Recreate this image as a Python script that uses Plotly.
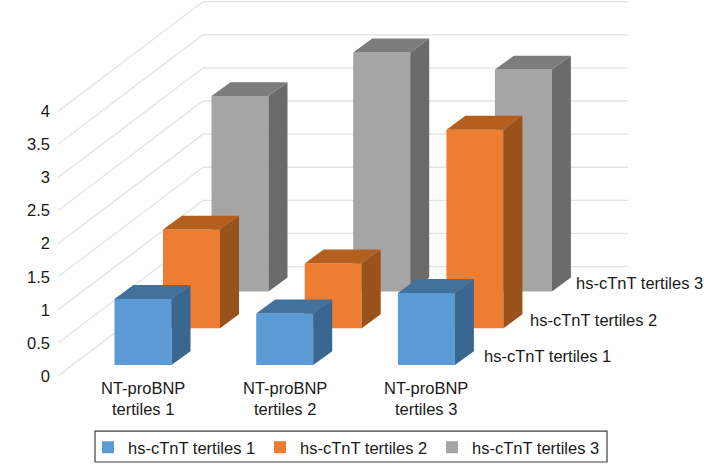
import plotly.graph_objects as go

categories = ["NT-proBNP<br>tertiles 1", "NT-proBNP<br>tertiles 2", "NT-proBNP<br>tertiles 3"]
series_names = ["hs-cTnT tertiles 1", "hs-cTnT tertiles 2", "hs-cTnT tertiles 3"]
tertiles_1 = [1.00, 0.78, 1.09]
tertiles_2 = [1.49, 0.98, 3.00]
tertiles_3 = [2.95, 3.61, 3.35]
y_ticks = [0, 0.5, 1, 1.5, 2, 2.5, 3, 3.5, 4]
series_values = [tertiles_1, tertiles_2, tertiles_3]

front_colors = ["#5B9BD5", "#ED7D31", "#A5A5A5"]
top_colors = ["#41719C", "#B55F1F", "#7C7C7C"]
side_colors = ["#3A6791", "#9A521C", "#6B6B6B"]

W, H = 704, 465
LEFT = 54
PX = 66.5          # pixels per HR unit
ZERO_PX = 377.7    # pixel row of HR = 0 in the front plane
CAT_STEP = 141.7
SER_DX, SER_DY = 48.5, 37 / PX
FIRST_X, FIRST_BASE = 143, 11 / PX
BAR_W = 57
DX, DY = 19, 14 / PX
WALL_DX, WALL_DY = 145, 110 / PX
WALL_END = 628
GRID_X0 = 58
FS = 16.5

fig = go.Figure()

# gridlines: floor-to-wall diagonal plus wall line for every tick
shapes = []
for v in y_ticks:
    line = dict(color="#E2E2E2", width=1.3)
    shapes.append(dict(type="line", layer="below", xref="x", yref="y", x0=GRID_X0, y0=v,
                       x1=GRID_X0 + WALL_DX, y1=v + WALL_DY, line=line))
    shapes.append(dict(type="line", layer="below", xref="x", yref="y", x0=GRID_X0 + WALL_DX, y0=v + WALL_DY,
                       x1=WALL_END, y1=v + WALL_DY, line=line))
# legend frame
shapes.append(dict(type="rect", layer="below", xref="x", yref="y", x0=95, x1=607,
                   y0=(ZERO_PX - 464) / PX, y1=(ZERO_PX - 433) / PX,
                   line=dict(color="#404040", width=1.2), fillcolor="white"))

for s in [2, 1, 0]:
    centers = [FIRST_X + c * CAT_STEP + s * SER_DX for c in range(3)]
    base = FIRST_BASE + s * SER_DY
    fig.add_trace(go.Bar(
        x=centers, y=series_values[s], base=[base] * 3, width=BAR_W,
        name=series_names[s], marker=dict(color=front_colors[s], line=dict(width=0)),
        hoverinfo="y+name",
    ))

for s in [2, 1, 0]:
    base = FIRST_BASE + s * SER_DY
    for c, v in enumerate(series_values[s]):
        xc = FIRST_X + c * CAT_STEP + s * SER_DX
        xl, xr = xc - BAR_W / 2, xc + BAR_W / 2
        top = base + v
        fig.add_trace(go.Scatter(
            x=[xr, xr + DX, xr + DX, xr, xr], y=[base, base + DY, top + DY, top, base],
            mode="lines", fill="toself", fillcolor=side_colors[s], line=dict(width=0),
            showlegend=False, hoverinfo="skip"))
        fig.add_trace(go.Scatter(
            x=[xl, xr, xr + DX, xl + DX, xl], y=[top, top, top + DY, top + DY, top],
            mode="lines", fill="toself", fillcolor=top_colors[s], line=dict(width=0),
            showlegend=False, hoverinfo="skip"))

FONT = "Liberation Sans, Arial, sans-serif"
annotations = []
for c, label in enumerate(categories):
    annotations.append(dict(x=FIRST_X + c * CAT_STEP, y=(ZERO_PX - 400) / PX, xref="x", yref="y",
                            text=label, showarrow=False, align="center",
                            font=dict(size=FS, color="#1A1A1A", family=FONT)))
for s, name in enumerate(series_names):
    annotations.append(dict(x=482 + s * 46, y=(ZERO_PX - 358 + s * 37) / PX, xref="x", yref="y",
                            xanchor="left", text=name, showarrow=False,
                            font=dict(size=FS, color="#1A1A1A", family=FONT)))
annotations.append(dict(x=9, y=(ZERO_PX - 242) / PX, xref="x", yref="y", text="<b>HR</b>", textangle=-90,
                        showarrow=False, font=dict(size=18, color="#000000", family=FONT)))

fig.update_layout(
    width=W, height=H, autosize=False,
    margin=dict(l=LEFT, r=0, t=0, b=0, pad=0),
    paper_bgcolor="white", plot_bgcolor="white",
    barmode="overlay", shapes=shapes, annotations=annotations,
    font=dict(family=FONT, size=FS, color="#1A1A1A"),
    xaxis=dict(range=[LEFT, W], visible=False, fixedrange=True),
    yaxis=dict(range=[(ZERO_PX - H) / PX, ZERO_PX / PX], tickvals=y_ticks, ticktext=[f"{v:g}" for v in y_ticks],
               showgrid=False, zeroline=False, showline=False, ticks="", fixedrange=True, ticklabelstandoff=3,
               tickfont=dict(size=FS, color="#1A1A1A", family=FONT)),
    legend=dict(orientation="h", traceorder="reversed", x=(88 - LEFT) / (W - LEFT), xanchor="left",
                y=-0.005, yanchor="bottom", bgcolor="rgba(0,0,0,0)", borderwidth=0,
                font=dict(size=FS, color="#1A1A1A", family=FONT), entrywidth=127, itemclick=False,
                itemdoubleclick=False),
    showlegend=True,
)

fig.write_html("out.html", config={"displayModeBar": False},
               post_script="document.body.style.margin='0';document.documentElement.style.overflow='hidden';")
